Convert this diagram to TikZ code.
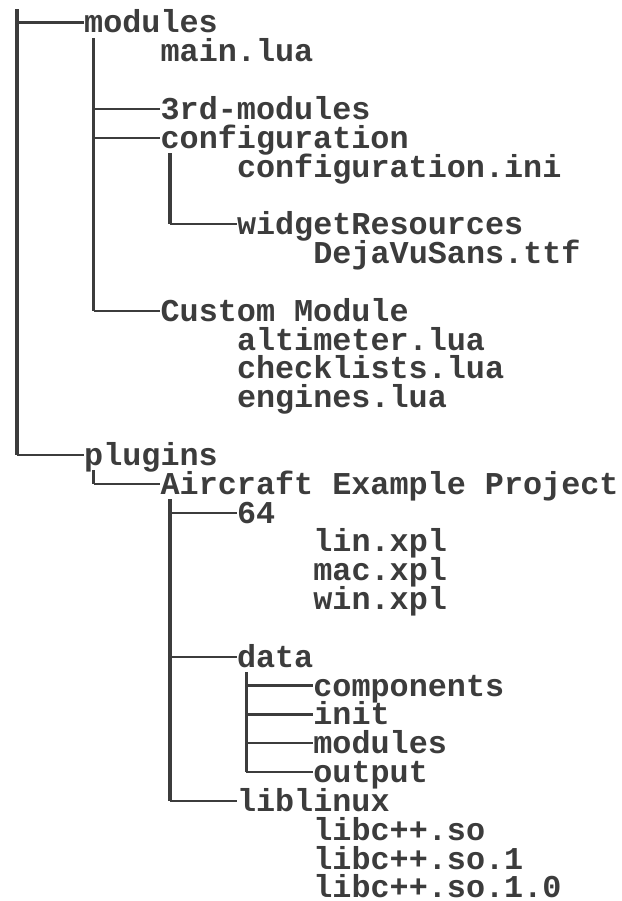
\documentclass[tikz,border=0pt]{standalone}
\usepackage{fontspec}
\newfontfamily\termfont{Liberation Mono}
\usetikzlibrary{calc}
\definecolor{termgray}{RGB}{60,60,60}

\begin{document}
\begin{tikzpicture}[x=19.1pt,y=-28.83pt,
	file/.style={anchor=base west,inner sep=0pt,text height=21pt,text depth=0pt,text=termgray,
		font=\termfont\bfseries\fontsize{31.8pt}{36pt}\selectfont},
	vline/.style={draw=termgray,line width=3.6pt},
	hline/.style={draw=termgray,line width=2.2pt}]
		\useasboundingbox (-7.6pt,33pt) rectangle ++(621pt,-901pt);
		%modules
		\node[file] (modules) at (4,0) {modules};
		\node[file] (mainlua) at (8,1) {main.lua};
		\node[file] (thirdmod) at (8,3) {3rd-modules};
		\node[file] (config) at (8,4) {configuration};
		\node[file] (configini) at (12,5) {configuration.ini};
		\node[file] (widget) at (12,7) {widgetResources};
		\node[file] (dejavu) at (16,8) {DejaVuSans.ttf};
		\node[file] (custom) at (8,10) {Custom Module};
		\node[file] (altimeter) at (12,11) {altimeter.lua};
		\node[file] (checklists) at (12,12) {checklists.lua};
		\node[file] (engines) at (12,13) {engines.lua};
		%plugins
		\node[file] (plugins) at (4,15) {plugins};
		\node[file] (aircraft) at (8,16) {Aircraft Example Project};
		\node[file] (sixtyfour) at (12,17) {64};
		\node[file] (linxpl) at (16,18) {lin.xpl};
		\node[file] (macxpl) at (16,19) {mac.xpl};
		\node[file] (winxpl) at (16,20) {win.xpl};
		\node[file] (data) at (12,22) {data};
		\node[file] (components) at (16,23) {components};
		\node[file] (init) at (16,24) {init};
		\node[file] (datamod) at (16,25) {modules};
		\node[file] (output) at (16,26) {output};
		\node[file] (liblinux) at (12,27) {liblinux};
		\node[file] (libso) at (16,28) {libc++.so};
		\node[file] (libsoone) at (16,29) {libc++.so.1};
		\node[file] (libsooneo) at (16,30) {libc++.so.1.0};
		
		%tree lines
		\coordinate (root) at (0.5,-0.82);
		\coordinate (modtop) at ($(modules.west)+(0.5,0.53)$);
		\coordinate (conftop) at ($(config.west)+(0.5,0.53)$);
		\coordinate (plugtop) at ($(plugins.west)+(0.5,0.53)$);
		\coordinate (airtop) at ($(aircraft.west)+(0.5,0.53)$);
		\coordinate (datatop) at ($(data.west)+(0.5,0.53)$);
		\draw[vline] (root) -- (root |- plugins.west);
		\draw[vline] (modtop) -- (modtop |- custom.west);
		\draw[vline] (conftop) -- (conftop |- widget.west);
		\draw[vline] (plugtop) -- (plugtop |- aircraft.west);
		\draw[vline] (airtop) -- (airtop |- liblinux.west);
		\draw[vline] (datatop) -- (datatop |- output.west);
		\foreach \n in {modules,plugins}{
		\draw[hline] (root |- \n.west) -- (\n.west);}
		\foreach \n in {thirdmod,config,custom}{
		\draw[hline] (modtop |- \n.west) -- (\n.west);}
		\draw[hline] (conftop |- widget.west) -- (widget.west);
		\draw[hline] (plugtop |- aircraft.west) -- (aircraft.west);
		\foreach \n in {sixtyfour,data,liblinux}{
		\draw[hline] (airtop |- \n.west) -- (\n.west);}
		\foreach \n in {components,init,datamod,output}{
		\draw[hline] (datatop |- \n.west) -- (\n.west);}
		
\end{tikzpicture}
\end{document}
